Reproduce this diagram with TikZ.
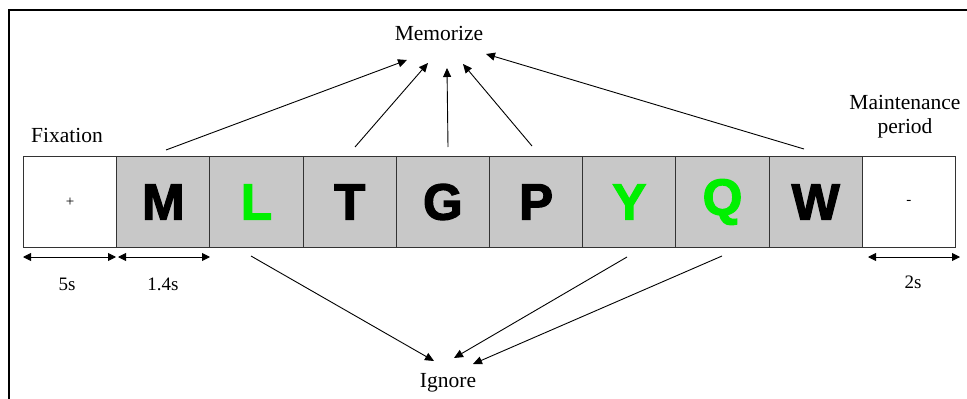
\documentclass[tikz,border=0pt]{standalone}
\usepackage{fontspec}
\setmainfont{Liberation Serif}
\newfontfamily\lettfont[BoldFeatures={FakeBold=2.5}]{Liberation Sans}
\usetikzlibrary{arrows.meta}
\definecolor{boxgray}{RGB}{200,200,200}
\definecolor{lgreen}{RGB}{0,240,0}
\begin{document}
\begin{tikzpicture}[x=1pt,y=-1pt,
  cell/.style={draw=black!80,line width=1pt,minimum width=93.2pt,minimum height=91pt,inner sep=0pt,anchor=north west},
  graycell/.style={cell,fill=boxgray,font=\lettfont\bfseries\fontsize{51}{51}\selectfont},
  whitecell/.style={cell,fill=white,font=\fontsize{15}{15}\selectfont},
  lbl/.style={font=\fontsize{21.5}{24}\selectfont,inner sep=0pt,align=center},
  dur/.style={font=\fontsize{19}{20}\selectfont,inner sep=0pt},
  conn/.style={line width=0.9pt,-{Triangle[length=9pt,width=8pt]}},
  dim/.style={line width=0.9pt,{Triangle[length=8pt,width=8pt]}-{Triangle[length=8pt,width=8pt]}}
]
\useasboundingbox (0,0) rectangle (967,399);
\draw[line width=1.6pt] (9,10) rectangle (1100,500);
% cells
\node[whitecell] (c0) at (23,156) {+};
\node[graycell] (c1) at (116.2,156) {M};
\node[graycell,text=lgreen] (c2) at (209.4,156) {L};
\node[graycell] (c3) at (302.6,156) {T};
\node[graycell] (c4) at (395.8,156) {G};
\node[graycell] (c5) at (489,156) {P};
\node[graycell,text=lgreen] (c6) at (582.2,156) {Y};
\node[graycell,text=lgreen] (c7) at (675.4,156) {Q};
\node[graycell] (c8) at (768.6,156) {W};
\node[whitecell] (c9) at (861.8,156) {-};
% labels
\node[lbl] (mem) at (439,33) {Memorize};
\node[lbl] (ign) at (448,383) {Ignore};
\node[lbl,anchor=west] (fix) at (31,135) {Fixation};
\node[lbl] (maint) at (905,117) {Maintenance\\period};
% memorize arrows
\coordinate (m1s) at (166,150); \coordinate (m1t) at (407,60);
\coordinate (m2s) at (355,147); \coordinate (m2t) at (428,63);
\coordinate (m3s) at (448,147); \coordinate (m3t) at (447,68);
\coordinate (m4s) at (532,146); \coordinate (m4t) at (463,64);
\coordinate (m5s) at (804,149); \coordinate (m5t) at (486,54);
\foreach \i in {1,...,5} \draw[conn] (m\i s) -- (m\i t);
% ignore arrows
\coordinate (i1s) at (251,256); \coordinate (i1t) at (434,361);
\coordinate (i2s) at (627,257); \coordinate (i2t) at (454,358);
\coordinate (i3s) at (722,256); \coordinate (i3t) at (473,364);
\foreach \i in {1,...,3} \draw[conn] (i\i s) -- (i\i t);
% durations
\coordinate (d1a) at (23,257); \coordinate (d1b) at (116,257);
\coordinate (d2a) at (118,257); \coordinate (d2b) at (210,257);
\coordinate (d3a) at (868,257); \coordinate (d3b) at (960,257);
\draw[dim] (d1a) -- (d1b);
\draw[dim] (d2a) -- (d2b);
\draw[dim] (d3a) -- (d3b);
\node[dur] (t1) at (67,284) {5s};
\node[dur] (t2) at (163,284) {1.4s};
\node[dur] (t3) at (913,282) {2s};
\end{tikzpicture}
\end{document}
